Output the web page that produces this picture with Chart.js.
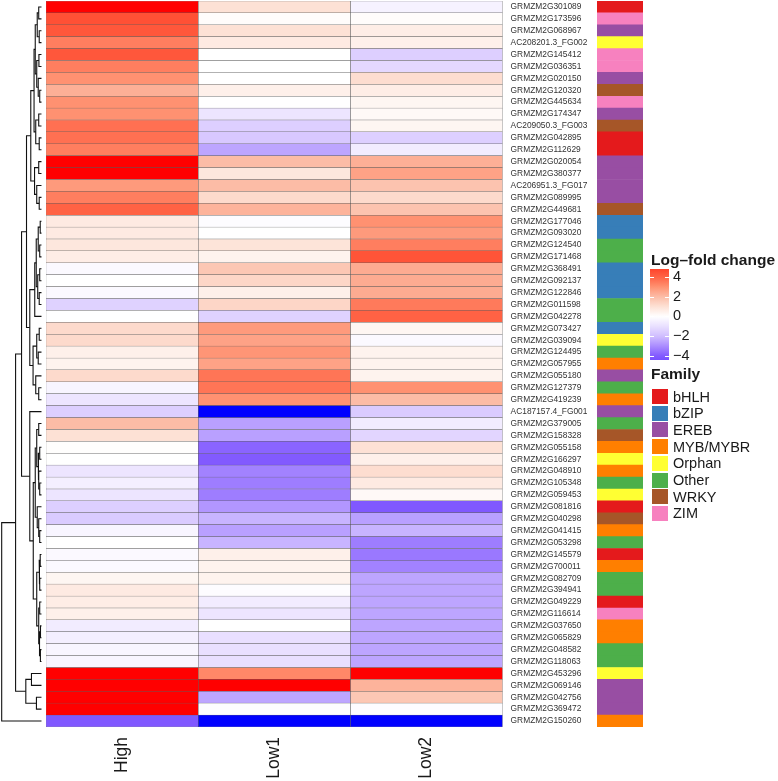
<!DOCTYPE html>
<html><head><meta charset="utf-8">
<script src="https://cdn.jsdelivr.net/npm/chart.js@4.4.0/dist/chart.umd.min.js"></script>
<style>
html,body{margin:0;padding:0;background:#fff;width:778px;height:781px;overflow:hidden;font-family:"Liberation Sans",Arial,sans-serif;}
canvas{position:absolute;}
.txt{position:absolute;white-space:nowrap;color:#1a1a1a;}
</style></head><body>
<canvas id="dendro" width="46" height="781" style="left:0;top:0"></canvas>
<canvas id="heat" width="551" height="781" style="left:46px;top:0"></canvas>
<canvas id="fam" width="46" height="781" style="left:597px;top:0"></canvas>
<canvas id="cbar" width="70" height="112" style="left:645px;top:259px"></canvas>
<div class="txt" style="left:651px;top:252px;font-weight:bold;font-size:15.5px;line-height:15.5px">Log–fold change</div>
<div class="txt" style="left:651px;top:366px;font-weight:bold;font-size:15.5px;line-height:15.5px">Family</div>
<div id="famLegend"></div>
<script>
const genes = ["GRMZM2G301089","GRMZM2G173596","GRMZM2G068967","AC208201.3_FG002","GRMZM2G145412","GRMZM2G036351","GRMZM2G020150","GRMZM2G120320","GRMZM2G445634","GRMZM2G174347","AC209050.3_FG003","GRMZM2G042895","GRMZM2G112629","GRMZM2G020054","GRMZM2G380377","AC206951.3_FG017","GRMZM2G089995","GRMZM2G449681","GRMZM2G177046","GRMZM2G093020","GRMZM2G124540","GRMZM2G171468","GRMZM2G368491","GRMZM2G092137","GRMZM2G122846","GRMZM2G011598","GRMZM2G042278","GRMZM2G073427","GRMZM2G039094","GRMZM2G124495","GRMZM2G057955","GRMZM2G055180","GRMZM2G127379","GRMZM2G419239","AC187157.4_FG001","GRMZM2G379005","GRMZM2G158328","GRMZM2G055158","GRMZM2G166297","GRMZM2G048910","GRMZM2G105348","GRMZM2G059453","GRMZM2G081816","GRMZM2G040298","GRMZM2G041415","GRMZM2G053298","GRMZM2G145579","GRMZM2G700011","GRMZM2G082709","GRMZM2G394941","GRMZM2G049229","GRMZM2G116614","GRMZM2G037650","GRMZM2G065829","GRMZM2G048582","GRMZM2G118063","GRMZM2G453296","GRMZM2G069146","GRMZM2G042756","GRMZM2G369472","GRMZM2G150260"];
const conditions = ["High","Low1","Low2"];
const high = [6,4.5,4.3,3.4,4.3,3.4,3.0,2.3,3.0,3.0,3.7,3.7,3.4,6,6,2.8,3.4,4.0,0.7,0.7,0.8,0.6,-0.2,0,-0.2,-1.4,0,1.2,1.2,0.5,0.4,1.2,-0.3,-0.8,-1.5,2.0,1.0,0.05,0,-0.8,-0.5,-0.8,-1.5,-1.6,-0.3,0,-0.2,-0.2,0.3,0.7,0.6,0.5,-0.6,-0.5,-0.3,-0.3,6,6,6,6,-4.1];
const low1 = [1.0,0.1,1.0,0.7,0,0,0,0.5,0,-0.8,-1.5,-1.7,-2.5,2.0,0.8,2.0,1.2,2.2,-0.1,0,0.9,0.4,1.7,1.3,0.5,1.3,-1.4,2.8,2.6,2.9,2.6,3.6,3.6,3.0,-6,-2.6,-2.6,-3.8,-4.0,-3.2,-3.3,-3.3,-2.8,-2.2,-2.6,-2.2,0.5,0.4,0.4,-0.1,-0.6,-0.8,0,-1.0,-1.0,-1.0,3.2,6,-2.5,-0.1,-6];
const low2 = [-0.4,0.1,0.6,0.5,-1.5,-1.2,1.1,0.6,0.3,0.2,0.3,-1.5,-0.6,2.3,2.6,1.8,1.2,1.8,3.0,2.8,3.4,4.4,2.4,2.4,2.4,3.5,4.0,0.3,-0.2,0.4,0.4,0.4,3.0,2.0,-1.6,-0.6,-1.3,1.0,0.5,1.1,0.7,0.2,-4.1,-2.6,-2.2,-3.3,-3.4,-3.2,-2.5,-2.5,-2.5,-2.5,-2.5,-2.5,-2.5,-2.5,6,2.2,1.7,-0.1,-6];
const family = ["bHLH","ZIM","EREB","Orphan","ZIM","ZIM","EREB","WRKY","ZIM","EREB","WRKY","bHLH","bHLH","EREB","EREB","EREB","EREB","WRKY","bZIP","bZIP","Other","Other","bZIP","bZIP","bZIP","Other","Other","bZIP","Orphan","Other","MYB/MYBR","EREB","Other","MYB/MYBR","EREB","Other","WRKY","MYB/MYBR","Orphan","MYB/MYBR","Other","Orphan","bHLH","WRKY","MYB/MYBR","Other","bHLH","MYB/MYBR","Other","Other","bHLH","ZIM","MYB/MYBR","MYB/MYBR","Other","Other","Orphan","EREB","EREB","EREB","MYB/MYBR"];
const familyNames = ["bHLH","bZIP","EREB","MYB/MYBR","Orphan","Other","WRKY","ZIM"];
const familyColors = ["#E41A1C","#377EB8","#984EA3","#FF7F00","#FFFF33","#4DAF4A","#A65628","#F781BF"];
const legendTicks = [-4,-2,0,2,4];
const legendRange = [-4.4,4.8];
// dendrogram: [mergeHeight, left, right]; leaves are row numbers (1-based)
const T1 = [7.7,[6.5,[4.5,[3,1,2],[2.5,3,4]],[5,[2.8,5,6],[3.5,7,[2,8,9]]]],[6,[3,10,11],[2.5,12,13]]];
const T2 = [7.2,[3,14,15],[5,16,[2.5,17,18]]];
const T3 = [7,[5.5,[3.5,[1.5,19,20],[2,21,22]],[4,[2,23,24],[2.5,25,26]]],27];
const T4 = [8.7,[5,[2.5,28,29],[3.5,30,31]],[6,32,[3,33,34]]];
const F1 = [6.5,[5,[3,36,37],[3.5,[2,38,39],[3,40,[2,41,42]]]],[4.5,43,[3,44,[2,45,46]]]];
const F2 = [5,[2.5,[1.5,47,48],[2,49,50]],[3,[2,51,52],[2.2,[1.2,53,54],[1.3,55,56]]]];
const tree = [40.3,[26.3,[20.3,[15.3,[11,T1,T2],[12,T3,T4]],[12,35,[8.5,F1,F2]]],[16,[10.3,57,58],[5.3,59,60]]],61];

Chart.defaults.font.family = "'Liberation Sans', Arial, sans-serif";

const posStops = [[0,[255,255,255]],[1,[253,225,213]],[2,[252,188,166]],[3,[255,145,113]],[4,[255,98,68]],[5,[255,62,38]]];
const negStops = [[0,[255,255,255]],[1,[233,223,255]],[2,[208,190,255]],[3,[170,140,255]],[4,[130,90,255]],[5,[105,65,255]]];
function colorFor(v){
  if (v > 5.2) return 'rgb(255,0,0)';
  if (v < -5.2) return 'rgb(0,0,255)';
  const stops = v >= 0 ? posStops : negStops;
  const a = Math.min(Math.abs(v),5);
  for (let i=1;i<stops.length;i++){
    if (a <= stops[i][0]){
      const t = (a - stops[i-1][0])/(stops[i][0]-stops[i-1][0]);
      const c = stops[i-1][1].map((c0,k)=>Math.round(c0 + t*(stops[i][1][k]-c0)));
      return 'rgb('+c.join(',')+')';
    }
  }
  return 'rgb('+stops[stops.length-1][1].join(',')+')';
}
const noPad = s=>{s.paddingTop=0;s.paddingBottom=0;s.paddingLeft=0;s.paddingRight=0;};

// Dendrogram
const segs = [];
function walk(node){
  if (typeof node === 'number') return {h:0, y:node-0.5};
  const l = walk(node[1]), r = walk(node[2]);
  segs.push([{x:l.h,y:l.y},{x:node[0],y:l.y},{x:node[0],y:r.y},{x:r.h,y:r.y}]);
  return {h:node[0], y:(l.y+r.y)/2};
}
walk(tree);
new Chart(document.getElementById('dendro'),{
  type:'scatter',
  data:{datasets: segs.map(s=>({data:s, showLine:true, borderColor:'#111', borderWidth:1.1, pointRadius:0, tension:0}))},
  options:{responsive:false, animation:false, events:[],
    layout:{padding:{top:1,bottom:54,left:0,right:4.3}},
    plugins:{legend:{display:false},tooltip:{enabled:false}},
    scales:{x:{type:'linear',reverse:true,min:0,max:42,display:false},
            y:{type:'linear',reverse:true,min:0,max:genes.length,display:false}}}
});

// Heatmap
const series = [high, low1, low2];
new Chart(document.getElementById('heat'),{
  type:'bar',
  data:{labels:genes, datasets: conditions.map((c,ci)=>({
    label:c, data: genes.map(()=>[ci,ci+1]),
    backgroundColor: series[ci].map(colorFor),
    borderColor:'rgba(70,70,70,0.75)', borderWidth:0.5, borderSkipped:false,
    grouped:false, barPercentage:1, categoryPercentage:1}))},
  options:{indexAxis:'y', responsive:false, animation:false, events:[],
    layout:{padding:{top:1,bottom:0,left:0,right:0}},
    plugins:{legend:{display:false},tooltip:{enabled:false}},
    scales:{
      x:{type:'linear',min:0,max:3,position:'bottom',
         grid:{display:false,drawTicks:false}, border:{display:false},
         afterBuildTicks:s=>{s.ticks = conditions.map((c,i)=>({value:i+0.5}));},
         ticks:{autoSkip:false,minRotation:90,maxRotation:90,padding:10,
                font:{size:17.5},color:'#1a1a1a',
                callback:v=>conditions[Math.floor(v)]},
         afterFit:s=>{s.height=54;noPad(s);}},
      y:{type:'category',position:'right',
         grid:{display:false,drawTicks:false}, border:{display:false},
         ticks:{autoSkip:false,padding:8,font:{size:8.4},color:'#333'},
         afterFit:s=>{s.width=94.4;noPad(s);}}
    }}
});

// Family annotation column
new Chart(document.getElementById('fam'),{
  type:'bar',
  data:{labels:genes, datasets:[{data:genes.map(()=>[0,1]),
    backgroundColor: family.map(f=>familyColors[familyNames.indexOf(f)]),
    borderWidth:0, barPercentage:1, categoryPercentage:1}]},
  options:{indexAxis:'y', responsive:false, animation:false, events:[],
    layout:{padding:{top:1,bottom:54,left:0,right:0}},
    plugins:{legend:{display:false},tooltip:{enabled:false}},
    scales:{x:{display:false,min:0,max:1},y:{display:false}}}
});

// Color bar legend
const tickMarks = {id:'tickMarks', afterDatasetsDraw(chart){
  const {ctx, chartArea:a, scales:{y}} = chart;
  ctx.save(); ctx.strokeStyle='#fff'; ctx.lineWidth=1;
  legendTicks.forEach(v=>{
    const py = Math.round(y.getPixelForValue(v))+0.5;
    ctx.beginPath(); ctx.moveTo(a.left,py); ctx.lineTo(a.left+4,py);
    ctx.moveTo(a.right-4,py); ctx.lineTo(a.right,py); ctx.stroke();
  });
  ctx.restore();
}};
new Chart(document.getElementById('cbar'),{
  type:'bar',
  data:{labels:[''], datasets:[{data:[legendRange],
    backgroundColor: c=>{
      const ch=c.chart; if(!ch.chartArea) return '#fff';
      const y=ch.scales.y;
      const g=ch.ctx.createLinearGradient(0,y.getPixelForValue(legendRange[0]),0,y.getPixelForValue(legendRange[1]));
      const n=40;
      for(let i=0;i<=n;i++){const v=legendRange[0]+i*(legendRange[1]-legendRange[0])/n; g.addColorStop(i/n,colorFor(v));}
      return g;},
    borderWidth:0, barPercentage:1, categoryPercentage:1}]},
  options:{responsive:false, animation:false, events:[],
    layout:{padding:{left:5,top:10,bottom:11,right:0}},
    plugins:{legend:{display:false},tooltip:{enabled:false}},
    scales:{x:{display:false},
      y:{position:'right',min:legendRange[0],max:legendRange[1],
         grid:{display:false,drawTicks:false}, border:{display:false},
         afterBuildTicks:s=>{s.ticks=legendTicks.map(v=>({value:v}));},
         ticks:{padding:4,font:{size:14.5},color:'#1a1a1a',
                callback:v=>v<0?'\u2212'+Math.abs(v):String(v)},
         afterFit:s=>{s.width=46;noPad(s);}}}},
  plugins:[tickMarks]
});

// Family legend
const fl = document.getElementById('famLegend');
familyNames.forEach((f,i)=>{
  const top = 389 + i*16.7;
  const box = document.createElement('div');
  box.style.cssText = 'position:absolute;left:652px;top:'+top+'px;width:16px;height:15px;background:'+familyColors[i];
  fl.appendChild(box);
  const t = document.createElement('div');
  t.className='txt';
  t.style.cssText += 'left:673px;top:'+(top-0.5)+'px;height:16px;line-height:16px;font-size:14.5px';
  t.textContent = f;
  fl.appendChild(t);
});
</script>
</body></html>
